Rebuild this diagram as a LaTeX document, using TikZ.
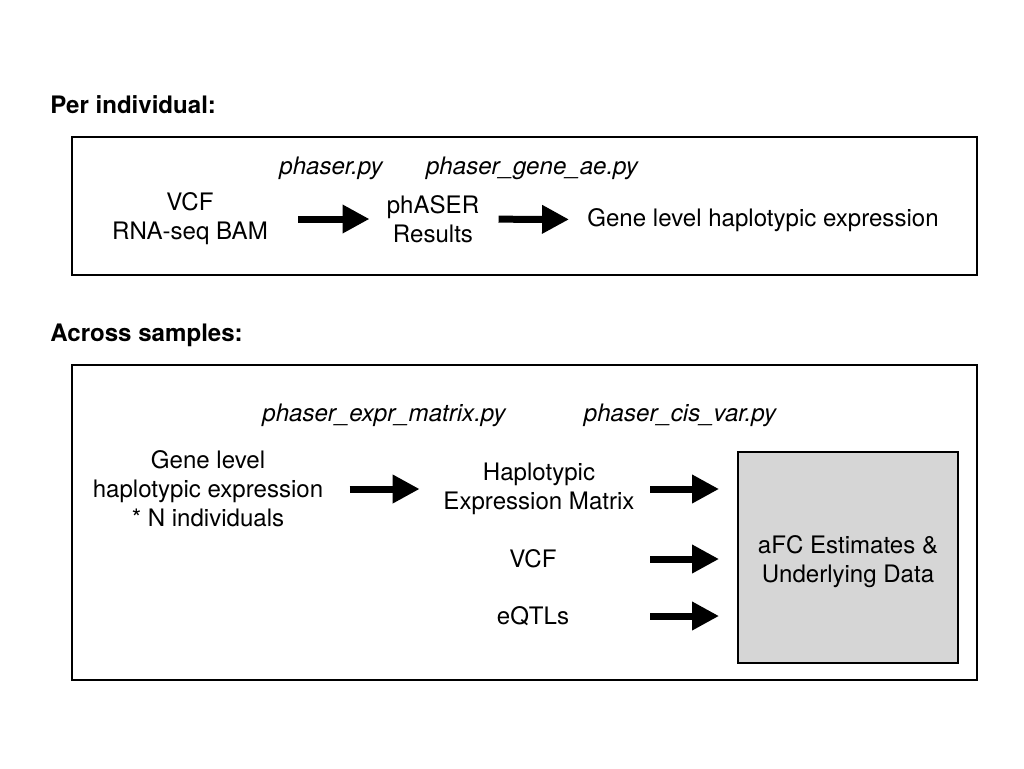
\documentclass[tikz,border=0pt]{standalone}
\usepackage{fontspec}
\setmainfont{TeX Gyre Heros}
\usetikzlibrary{arrows.meta}
\definecolor{resultgray}{HTML}{D6D6D6}
\begin{document}
\begin{tikzpicture}[x=0.02cm,y=-0.02cm,
  every node/.style={font=\fontsize{13.7}{16.5}\selectfont,inner sep=0pt,align=center},
  heading/.style={font=\fontsize{13.7}{16.5}\selectfont\bfseries,anchor=base west},
  script/.style={font=\fontsize{13.7}{16.5}\selectfont\itshape,anchor=base},
  frame/.style={draw,line width=1.1pt},
  bigarrow/.style={line width=0.14cm,-{Triangle[length=0.54cm,width=0.54cm]}}]
  \useasboundingbox (0,0) rectangle (1024,768);
  % per individual
  \node[heading] (per) at (50,113) {Per individual:};
  \draw[frame] (72,137) rectangle (977,275);
  \node[script] (phaser) at (331,174) {phaser.py};
  \node[script] (geneae) at (532,174) {phaser\_gene\_ae.py};
  \node (input) at (190,219) {VCF\\RNA-seq BAM};
  \node (phres) at (433,219) {phASER\\Results};
  \node (genehap) at (763,220) {Gene level haplotypic expression};
  \draw[bigarrow,shorten <=0.6cm,shorten >=0.34cm] (input) -- (phres);
  \draw[bigarrow,shorten <=0.38cm,shorten >=0.36cm] (phres) -- (genehap);
  % across samples
  \node[heading] (across) at (50,341) {Across samples:};
  \draw[frame] (72,365) rectangle (977,680);
  \node[script] (exprmat) at (384,421) {phaser\_expr\_matrix.py};
  \node[script] (cisvar) at (680,421) {phaser\_cis\_var.py};
  \node (allhap) at (208,489) {Gene level\\haplotypic expression\\* N individuals};
  \node (matrix) at (539,489) {Haplotypic\\Expression Matrix};
  \node (vcf) at (533,559) {VCF};
  \node (eqtl) at (533,616) {eQTLs};
  \node[draw,line width=1.1pt,fill=resultgray,minimum width=4.4cm,minimum height=4.22cm]
    (afc) at (848,557.5) {};
  \node (afctext) at (848,561.5) {aFC Estimates \&\\Underlying Data};
  \draw[bigarrow,shorten <=0.52cm,shorten >=0.47cm] (allhap) -- (matrix);
  \foreach \src in {matrix,vcf,eqtl}
    \draw[bigarrow,shorten <=0.31cm,shorten >=0.36cm] (\src -| matrix.east) -- (\src -| afc.west);
\end{tikzpicture}
\end{document}
